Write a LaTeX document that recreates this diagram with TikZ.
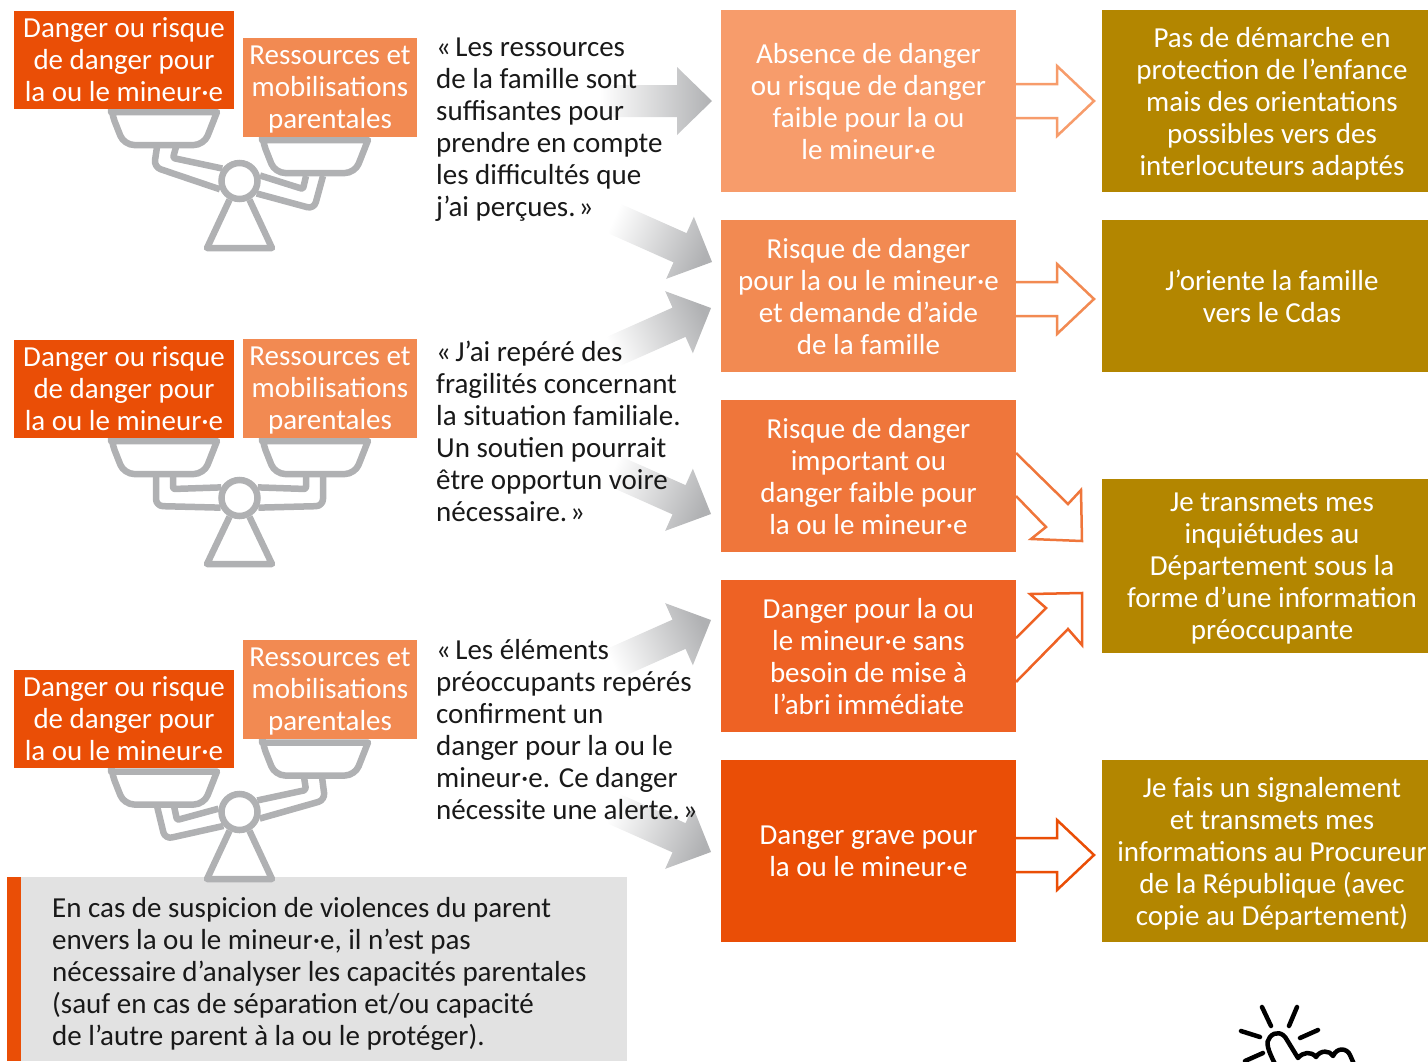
\documentclass[tikz,border=0pt]{standalone}
\usepackage{fontspec}
\setmainfont{Carlito}
\usepackage{tikz}
\usetikzlibrary{positioning}

\definecolor{dangerorange}{HTML}{EA4E06}
\definecolor{resourceorange}{HTML}{F28A52}
\definecolor{levelone}{HTML}{F79C6B}
\definecolor{leveltwo}{HTML}{F28A52}
\definecolor{levelthree}{HTML}{EF763B}
\definecolor{levelfour}{HTML}{EE6224}
\definecolor{levelfive}{HTML}{EA4E06}
\definecolor{actionbox}{HTML}{B38600}
\definecolor{scalegray}{HTML}{B0B1B3}
\definecolor{notegray}{HTML}{E2E2E2}

\tikzset{
  boxtext/.style={inner sep=0pt,outer sep=0pt,align=center,text=white,font=\fontsize{29}{32}\selectfont},
  dangerbox/.style={boxtext,fill=dangerorange,minimum width=220pt,minimum height=98pt},
  resourcebox/.style={boxtext,text depth=-6.5pt,fill=resourceorange,minimum width=174pt,minimum height=99pt},
  levelbox/.style={boxtext,text depth=-4pt,minimum width=295pt,minimum height=#1},
  actbox/.style={boxtext,text depth=-3pt,fill=actionbox,minimum width=340pt,minimum height=#1},
  quotetext/.style={inner sep=0pt,align=left,anchor=north west,text=black!90,font=\fontsize{29}{32}\selectfont},
  scaleline/.style={draw=scalegray,line width=6.5pt,line join=round},
  pivotnode/.style={circle,draw=scalegray,line width=6.5pt,fill=white,minimum size=36pt,inner sep=0pt},
  openarrow/.style={draw=#1,line width=2.5pt,fill=white,line join=miter},
  clickline/.style={draw=black,line width=4.5pt,line cap=round,line join=round}
}

% one gray arrow: tip, angle, shading angle
\newcommand{\grayarrow}[3]{
  \shade[left color=white,right color=scalegray,shading angle=#3,shift={#1},rotate=#2]
    (-112,-16) -- (-35,-16) -- (-35,-34) -- (0,0) -- (-35,34) -- (-35,16) -- (-112,16) -- cycle;
}
\newcommand{\scalepan}[2]{
  \draw[scaleline] (#1,#2) -- ++(106,0) [rounded corners=10pt] -- ++(-13,33) -- ++(-80,0) -- ++(-13,-33) [sharp corners] -- cycle;
}

\begin{document}
\begin{tikzpicture}[x=1pt,y=-1pt]
   \clip (0,0) rectangle (1428,1061);

   % gray arrows go under the quotes
   \grayarrow{(712,101)}{0}{90}
   \grayarrow{(712,262)}{-24}{66}
   \grayarrow{(711,308)}{24}{114}
   \grayarrow{(711,514)}{-24}{66}
   \grayarrow{(711,620)}{24}{114}
   \grayarrow{(711,852)}{-24}{66}

   % note at the bottom
   \node[fill=notegray,minimum width=620pt,minimum height=184pt,inner sep=0pt,outer sep=0pt] (note) at (317,969) {};
   \node[fill=dangerorange,minimum width=14pt,minimum height=184pt,inner sep=0pt,outer sep=0pt] (notebar) at (14,969) {};
   \node[quotetext] (notetext) at (52,897) {En cas de suspicion de violences du parent\\envers la ou le mineur·e, il n’est pas\\nécessaire d’analyser les capacités parentales\\(sauf en cas de séparation et/ou capacité\\de l’autre parent à la ou le protéger).};

   % first balance
   \scalepan{111}{112}
   \scalepan{262}{140}
   \node[pivotnode] (pivota) at (239.5,181) {};
   \draw[scaleline,rounded corners=7pt] (157,147) -- (154,167) -- (pivota.203);
   \draw[scaleline,rounded corners=2pt] (176,147) -- (173,158) -- (pivota.144);
   \draw[scaleline,rounded corners=2pt] (306,176) -- (303,189) -- (pivota.15);
   \draw[scaleline,rounded corners=7pt] (323,176) -- (314,209) -- (pivota.-36);
   \draw[scaleline] (pivota.-62) -- (272,248) -- (207,248) -- (pivota.-118);
   \node[dangerbox] (dangera) at (124,60) {Danger ou risque\\de danger pour\\la ou le mineur·e};
   \node[resourcebox] (resa) at (330,87.5) {Ressources et\\mobilisations\\parentales};

   % second balance
   \scalepan{111}{441}
   \scalepan{262}{441}
   \node[pivotnode] (pivotb) at (239.5,498) {};
   \draw[scaleline,rounded corners=7pt] (156,476) -- (156,506) -- (pivotb.207);
   \draw[scaleline,rounded corners=2pt] (173,476) -- (173,489) -- (pivotb.150);
   \draw[scaleline,rounded corners=2pt] (306,476) -- (306,489) -- (pivotb.30);
   \draw[scaleline,rounded corners=7pt] (323,476) -- (323,506) -- (pivotb.-27);
   \draw[scaleline] (pivotb.-62) -- (272,564) -- (207,564) -- (pivotb.-118);
   \node[dangerbox] (dangerb) at (124,388.5) {Danger ou risque\\de danger pour\\la ou le mineur·e};
   \node[resourcebox] (resb) at (330,388.5) {Ressources et\\mobilisations\\parentales};

   % third balance
   \scalepan{111}{771.5}
   \scalepan{262}{742.5}
   \node[pivotnode] (pivotc) at (239.5,812) {};
   \draw[scaleline,rounded corners=7pt] (157,806) -- (165,839) -- (pivotc.221);
   \draw[scaleline,rounded corners=2pt] (174,806) -- (177,820) -- (pivotc.171);
   \draw[scaleline,rounded corners=2pt] (304,777) -- (306,790) -- (pivotc.33);
   \draw[scaleline,rounded corners=7pt] (322,777) -- (325,800) -- (pivotc.-18);
   \draw[scaleline] (pivotc.-62) -- (272,879) -- (207,879) -- (pivotc.-118);
   \node[dangerbox] (dangerc) at (124,718.5) {Danger ou risque\\de danger pour\\la ou le mineur·e};
   \node[resourcebox] (resc) at (330,689.5) {Ressources et\\mobilisations\\parentales};

   % quotes
   \node[quotetext] (quotea) at (436,38) {«\kern.15em Les ressources\\de la famille sont\\suffisantes pour\\prendre en compte\\les difficultés que\\j’ai perçues.\kern.1em»};
   \node[quotetext] (quoteb) at (436,341) {«\kern.15em J’ai repéré des\\fragilités concernant\\la situation familiale.\\Un soutien pourrait\\être opportun voire\\nécessaire.\kern.1em»};
   \node[quotetext] (quotec) at (436,639) {«\kern.15em Les éléments\\préoccupants repérés\\confirment un\\danger pour la ou le\\mineur·e. Ce danger\\nécessite une alerte.\kern.1em»};

   % levels
   \node[levelbox=182pt,fill=levelone] (absence) at (868.5,101) {Absence de danger\\ou risque de danger\\faible pour la ou\\le mineur·e};
   \node[levelbox=152pt,fill=leveltwo] (aide) [below=28pt of absence] {Risque de danger\\pour la ou le mineur·e\\et demande d’aide\\de la famille};
   \node[levelbox=152pt,fill=levelthree] (important) [below=28pt of aide] {Risque de danger\\important ou\\danger faible pour\\la ou le mineur·e};
   \node[levelbox=152pt,fill=levelfour] (sansabri) [below=28pt of important] {Danger pour la ou\\le mineur·e sans\\besoin de mise à\\l’abri immédiate};
   \node[levelbox=182pt,fill=levelfive,text depth=-8pt] (grave) [below=28pt of sansabri] {Danger grave pour\\la ou le mineur·e};

   % actions
   \node[actbox=182pt] (orient) at (1272,101) {Pas de démarche en\\protection de l’enfance\\mais des orientations\\possibles vers des\\interlocuteurs adaptés};
   \node[actbox=152pt] (cdas) [below=28pt of orient] {J’oriente la famille\\vers le Cdas};
   \node[actbox=174pt] (info) at (1272,566) {Je transmets mes\\inquiétudes au\\Département sous la\\forme d’une information\\préoccupante};
   \node[actbox=182pt] (signal) at (1272,851) {Je fais un signalement\\et transmets mes\\informations au Procureur\\de la République (avec\\copie au Département)};

   % open arrows
   \draw[openarrow=levelone] ([yshift=17pt]absence.east) -- ++(41,0) -- ++(0,-18) -- ++(37,35) -- ++(-37,35) -- ++(0,-18) -- ([yshift=-17pt]absence.east);
   \draw[openarrow=leveltwo] ([yshift=14pt]aide.east) -- ++(41,0) -- ++(0,-18) -- ++(37,35) -- ++(-37,35) -- ++(0,-18) -- ([yshift=-20pt]aide.east);
   \draw[openarrow=levelthree] ([yshift=23pt]important.east) -- ++(52,51) -- ++(13,-14) -- ++(1,51) -- ++(-51,-2) -- ++(15,-12) -- ([yshift=-20pt]important.east);
   \draw[openarrow=levelfour] ([yshift=18pt]sansabri.east) -- ++(30,-30) -- ++(-16,-14) -- ++(52,-1) -- ++(0,52) -- ++(-14,-16) -- ([yshift=-26pt]sansabri.east);
   \draw[openarrow=levelfive] ([yshift=13pt]grave.east) -- ++(41,0) -- ++(0,-18) -- ++(37,35) -- ++(-37,35) -- ++(0,-18) -- ([yshift=-21pt]grave.east);

   % hand
   \draw[clickline] (1262,1007) -- (1271,1026);
   \draw[clickline] (1297,1007) -- (1289,1026);
   \draw[clickline] (1241,1031) -- (1260,1037);
   \draw[clickline] (1318,1030) -- (1300,1038);
   \draw[clickline] (1263,1053) -- (1245,1061);
   \draw[clickline,fill=white] (1275,1064) .. controls (1268,1050) and (1265,1042) .. (1270,1037) .. controls (1275,1031) and (1283,1032) .. (1287,1040) -- (1298,1058) .. controls (1303,1052) and (1311,1051) .. (1316,1057) .. controls (1320,1050) and (1330,1050) .. (1333,1056) .. controls (1337,1047) and (1347,1048) .. (1350,1055) -- (1354,1064);
\end{tikzpicture}
\end{document}
